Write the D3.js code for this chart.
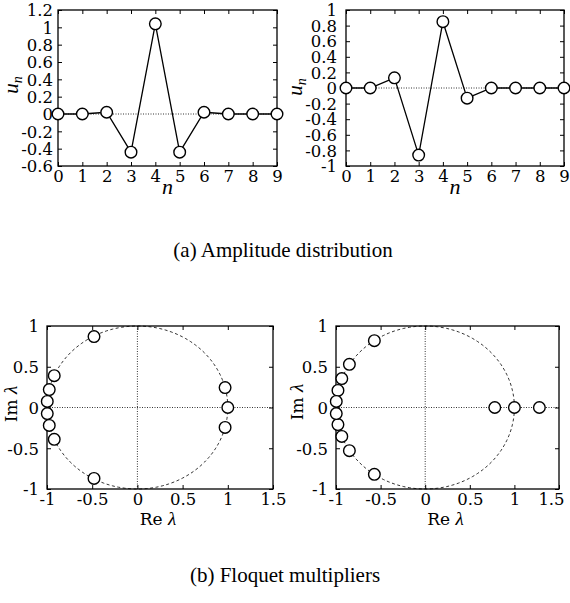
<!DOCTYPE html>
<html>
<head>
<meta charset="utf-8">
<script src="https://cdn.jsdelivr.net/npm/d3@7"></script>
<style>
  body { margin: 0; background: #fff; }
  svg { display: block; }
</style>
</head>
<body>
<svg id="chart" width="570" height="603"></svg>
<script>
// amplitude distributions u_n, n = 0..9
const sites = [0, 1, 2, 3, 4, 5, 6, 7, 8, 9];
const ampLeft = [0, 0, 0.02, -0.44, 1.04, -0.44, 0.02, 0, 0, 0];
const ampRight = [0, 0, 0.13, -0.86, 0.85, -0.13, 0, 0, 0, 0];

// floquet multipliers (re, im)
const floqLeftRe = [-0.48, -0.48, -0.92, -0.92, -0.975, -0.975, -0.997, -0.997, 0.97, 0.97, 1.0];
const floqLeftIm = [0.87, -0.87, 0.39, -0.39, 0.22, -0.22, 0.075, -0.075, 0.245, -0.245, 0];
const floqRightRe = [-0.57, -0.57, -0.85, -0.85, -0.935, -0.935, -0.978, -0.978, -0.997, -0.997, 0.78, 1.0, 1.28];
const floqRightIm = [0.82, -0.82, 0.53, -0.53, 0.355, -0.355, 0.21, -0.21, 0.075, -0.075, 0, 0, 0];

const ampLeftTicks = [-0.6, -0.4, -0.2, 0, 0.2, 0.4, 0.6, 0.8, 1, 1.2];
const ampRightTicks = [-1, -0.8, -0.6, -0.4, -0.2, 0, 0.2, 0.4, 0.6, 0.8, 1];
const reTicks = [-1, -0.5, 0, 0.5, 1, 1.5];
const imTicks = [-1, -0.5, 0, 0.5, 1];

const svg = d3.select('#chart');
const serif = 'Liberation Serif';
const tickFam = 'DejaVu Serif';
const tickFont = 16.5;

function panel(box, xdom, ydom, xticks, yticks, ypad) {
    let g = svg.append('g');
    let x = d3.scaleLinear().domain(xdom).range([box.x0, box.x1]);
    let y = d3.scaleLinear().domain(ydom).range([box.y1, box.y0]);
    let fmt = d => String(d);

    // inward ticks on all four sides
    let bottom = g.append('g').attr('transform', `translate(0,${box.y1})`)
        .call(d3.axisBottom(x).tickValues(xticks).tickSizeInner(-4).tickSizeOuter(0).tickPadding(4).tickFormat(fmt));
    let top = g.append('g').attr('transform', `translate(0,${box.y0})`)
        .call(d3.axisTop(x).tickValues(xticks).tickSizeInner(-4).tickSizeOuter(0).tickFormat(''));
    let left = g.append('g').attr('transform', `translate(${box.x0},0)`)
        .call(d3.axisLeft(y).tickValues(yticks).tickSizeInner(-4).tickSizeOuter(0).tickPadding(ypad).tickFormat(fmt));
    let right = g.append('g').attr('transform', `translate(${box.x1},0)`)
        .call(d3.axisRight(y).tickValues(yticks).tickSizeInner(-4).tickSizeOuter(0).tickFormat(''));
    [bottom, top, left, right].forEach(a => {
        a.attr('font-family', tickFam).attr('font-size', tickFont);
        a.select('.domain').remove();
        a.selectAll('.tick line').attr('stroke', '#000').attr('stroke-width', 1);
        a.selectAll('.tick text').attr('font-family', tickFam).attr('font-size', tickFont).attr('fill', '#000');
    });
    left.selectAll('.tick text').attr('dy', '0.35em');
    bottom.selectAll('.tick text').attr('dy', '0.71em');

    g.append('rect')
        .attr('x', box.x0).attr('y', box.y0)
        .attr('width', box.x1 - box.x0).attr('height', box.y1 - box.y0)
        .attr('fill', 'none').attr('stroke', '#000').attr('stroke-width', 1.3);
    return { g, x, y, bottom };
}

function dotted(p, x1, x2, y1, y2) {
    p.g.append('line')
        .attr('x1', x1).attr('x2', x2).attr('y1', y1).attr('y2', y2)
        .attr('stroke', '#000').attr('stroke-width', 0.8).attr('stroke-dasharray', '1,1.5');
}

function circles(p, xs, ys) {
    p.g.selectAll('circle.pt').data(xs).enter().append('circle')
        .attr('class', 'pt')
        .attr('cx', d => p.x(d))
        .attr('cy', (d, i) => p.y(ys[i]))
        .attr('r', 5.8)
        .attr('fill', '#fff').attr('stroke', '#000').attr('stroke-width', 1.4);
}

// ---- (a) amplitude panels
function ampPanel(box, vals, ydom, yticks, ypad, lab) {
    let p = panel(box, [0, 9], ydom, sites, yticks, ypad);
    dotted(p, box.x0, box.x1, p.y(0), p.y(0));
    let line = d3.line().x((d, i) => p.x(sites[i])).y(d => p.y(d));
    p.g.append('path').attr('d', line(vals))
        .attr('fill', 'none').attr('stroke', '#000').attr('stroke-width', 1.3);
    circles(p, sites, vals);
    svg.append('text')
        .attr('x', (box.x0 + box.x1) / 2).attr('y', 194)
        .attr('text-anchor', 'middle')
        .attr('font-family', serif).attr('font-style', 'italic').attr('font-size', 22)
        .text('n');
    let t = svg.append('text')
        .attr('transform', `translate(${lab[0]},${lab[1]}) rotate(-90)`)
        .attr('text-anchor', 'middle')
        .attr('font-family', serif).attr('font-size', 21);
    t.append('tspan').attr('font-style', 'italic').text('u');
    t.append('tspan').attr('font-style', 'italic').attr('font-size', 14).attr('dy', 4).text('n');
}

ampPanel({ x0: 58, x1: 277, y0: 10, y1: 166 }, ampLeft, [-0.6, 1.2], ampLeftTicks, 5, [18, 85]);
ampPanel({ x0: 346, x1: 564, y0: 10, y1: 166 }, ampRight, [-1, 1], ampRightTicks, 9, [302, 87]);

// ---- (b) floquet panels
function floqPanel(box, re, im, lab) {
    let p = panel(box, [-1, 1.5], [-1, 1], reTicks, imTicks, 8);
    dotted(p, box.x0, box.x1, p.y(0), p.y(0));
    dotted(p, p.x(0), p.x(0), box.y0, box.y1);
    // unit circle
    let angles = d3.range(0, 361, 2);
    let ring = d3.line()
        .x(a => p.x(Math.cos(a * Math.PI / 180)))
        .y(a => p.y(Math.sin(a * Math.PI / 180)));
    p.g.append('path').attr('d', ring(angles))
        .attr('fill', 'none').attr('stroke', '#000').attr('stroke-width', 0.8).attr('stroke-dasharray', '3,2.5');
    circles(p, re, im);
    let t = svg.append('text')
        .attr('x', (box.x0 + box.x1) / 2 - 2).attr('y', 525)
        .attr('text-anchor', 'middle')
        .attr('font-family', tickFam).attr('font-size', 17);
    t.append('tspan').text('Re ');
    t.append('tspan').attr('font-family', serif).attr('font-style', 'italic').attr('font-size', 19).text('λ');
    let s = svg.append('text')
        .attr('transform', `translate(${lab[0]},${lab[1]}) rotate(-90)`)
        .attr('text-anchor', 'middle')
        .attr('font-family', tickFam).attr('font-size', 17);
    s.append('tspan').text('Im ');
    s.append('tspan').attr('font-family', serif).attr('font-style', 'italic').attr('font-size', 19).text('λ');
    return p;
}

floqPanel({ x0: 47, x1: 273, y0: 326, y1: 489 }, floqLeftRe, floqLeftIm, [17, 404]);
let pr = floqPanel({ x0: 336, x1: 559, y0: 326, y1: 489 }, floqRightRe, floqRightIm, [303, 402]);
// keep the last label inside the page, as in the original
pr.bottom.selectAll('.tick text').filter(d => d === 1.5).attr('dx', -8);

// captions
svg.append('text').attr('x', 283).attr('y', 257).attr('text-anchor', 'middle')
    .attr('font-family', serif).attr('font-size', 21)
    .text('(a) Amplitude distribution');
svg.append('text').attr('x', 285).attr('y', 582).attr('text-anchor', 'middle')
    .attr('font-family', serif).attr('font-size', 21)
    .text('(b) Floquet multipliers');
</script>
</body>
</html>
